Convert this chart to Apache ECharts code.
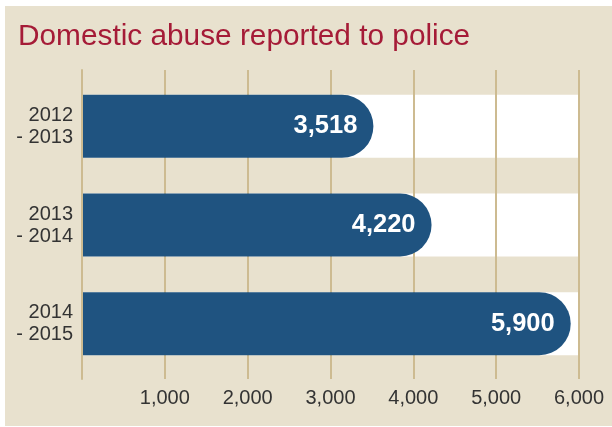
<!DOCTYPE html>
<html>
<head>
<meta charset="utf-8">
<script src="https://cdn.jsdelivr.net/npm/echarts@6/dist/echarts.min.js"></script>
<style>html,body{margin:0;padding:0;background:#fff}#c{width:612px;height:427px}</style>
</head>
<body>
<div id="c"></div>
<script>
var titleText = 'Domestic abuse reported to police';
var categories = ['2012\n- 2013', '2013\n- 2014', '2014\n- 2015'];
var values = [3518, 4220, 5900];
var axisMax = 6000;
var tickInterval = 1000;

var chart = echarts.init(document.getElementById('c'), null, {renderer: 'canvas'});
var FONT = 'Liberation Sans, Arial, sans-serif';
var fmt = function (v) { return v.toString().replace(/\B(?=(\d{3})+(?!\d))/g, ','); };

chart.setOption({
  backgroundColor: '#ffffff',
  animation: false,
  graphic: [{
    type: 'rect', left: 5, top: 6, z: -10,
    shape: {width: 607, height: 420},
    style: {fill: '#e8e1ce'}
  }],
  title: {
    text: titleText, left: 13, top: 17,
    textStyle: {color: '#a51b37', fontSize: 29.8, fontWeight: 'normal', fontFamily: FONT}
  },
  grid: [
    {left: 82, width: 497, top: 77, height: 296},
    {left: 82, width: 497, top: 70, height: 309}
  ],
  xAxis: [
    {gridIndex: 0, type: 'value', min: 0, max: axisMax, interval: tickInterval, show: false},
    {gridIndex: 1, type: 'value', min: 0, max: axisMax, interval: tickInterval, z: 2,
     axisLine: {show: false}, axisTick: {show: false},
     splitLine: {show: true, lineStyle: {color: '#cdbb91', width: 2}},
     axisLabel: {margin: 9, color: '#333333', fontSize: 20, fontFamily: FONT,
       formatter: function (v) { return v === 0 ? '' : fmt(v); }}}
  ],
  yAxis: [
    {gridIndex: 0, type: 'category', data: categories, inverse: true,
     axisLine: {show: false}, axisTick: {show: false}, splitLine: {show: false},
     axisLabel: {margin: 9, color: '#333333', fontSize: 20, lineHeight: 22, align: 'right', fontFamily: FONT}},
    {gridIndex: 1, type: 'category', data: categories, inverse: true, z: 4,
     axisLine: {show: true, lineStyle: {color: '#cdbb91', width: 2}},
     axisTick: {show: false}, axisLabel: {show: false}, splitLine: {show: false}}
  ],
  series: [
    {
      type: 'bar', xAxisIndex: 0, yAxisIndex: 0, z: 1, barWidth: 63, barGap: '-100%',
      data: categories.map(function () { return axisMax; }),
      itemStyle: {color: '#ffffff'}, silent: true
    },
    {
      type: 'bar', xAxisIndex: 0, yAxisIndex: 0, z: 3, barWidth: 63, barGap: '-100%',
      data: values,
      itemStyle: {color: '#1f5380', borderRadius: [0, 31.5, 31.5, 0]},
      label: {show: true, position: 'insideRight', distance: 16, color: '#ffffff',
        fontSize: 25.5, fontWeight: 'bold', fontFamily: FONT,
        formatter: function (p) { return fmt(p.value); }}
    }
  ]
});
</script>
</body>
</html>
